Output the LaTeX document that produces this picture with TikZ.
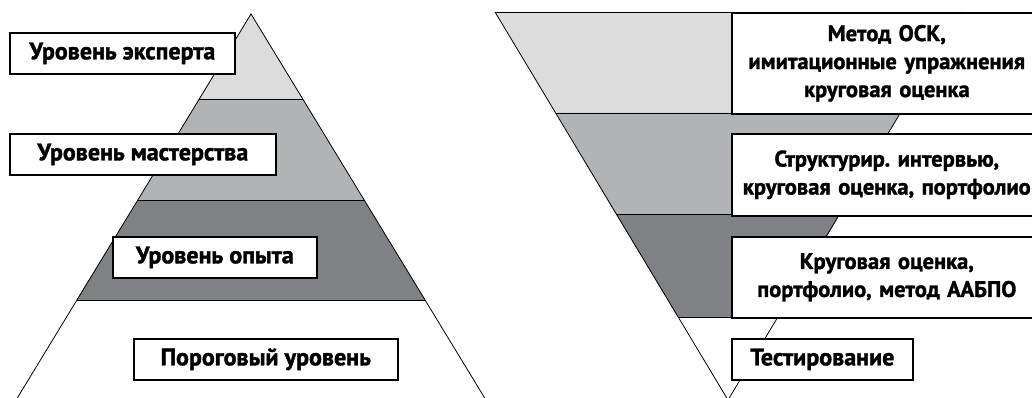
\documentclass[tikz,border=0pt]{standalone}
\usepackage{fontspec}
\setmainfont{PT Sans}[BoldFeatures={FakeBold=1.5}]
\usepackage{xcolor}
\usetikzlibrary{positioning}
\frenchspacing

\definecolor{bandlight}{HTML}{DCDCDD}
\definecolor{bandmid}{HTML}{B2B3B5}
\definecolor{banddark}{HTML}{808184}

\begin{document}
\begin{tikzpicture}[
    x=1pt, y=-1pt,
    every node/.style={font=\bfseries\fontsize{24}{28}\selectfont},
    lvlbox/.style={draw, line width=1.6pt, fill=white, inner sep=0pt, anchor=north west, align=center},
    methbox/.style={lvlbox, minimum width=310, text width=300, font=\bfseries\fontsize{22.5}{28}\selectfont},
    edge line/.style={draw, line width=0.8pt}
]
\clip (0,0) rectangle (1032,398);
\fill[white] (0,0) rectangle (1032,398);

% left pyramid
\coordinate (apex) at (251,14);
\fill[bandlight] (apex) -- (303,99) -- (199,99) -- cycle;
\fill[bandmid] (199,99) -- (303,99) -- (364,200) -- (138,200) -- cycle;
\fill[banddark] (138,200) -- (364,200) -- (425.5,300) -- (76.5,300) -- cycle;
\draw[line width=0.6pt] (199,99) -- (303,99) (138,200) -- (364,200) (76.5,300) -- (425.5,300);
\coordinate (baseL) at (10,410);
\coordinate (baseR) at (492,410);
\draw[edge line] (baseL) -- (apex) -- (baseR);

\node[lvlbox, minimum width=225, minimum height=41] (expert) at (9,32) {Уровень эксперта};
\node[lvlbox, minimum width=266, minimum height=41] (master) at (9,133) {Уровень мастерства};
\node[lvlbox, minimum width=204, minimum height=41] (opyt) at (112,236) {Уровень опыта};
\node[lvlbox, minimum width=264, minimum height=41] (porog) at (133,338) {Пороговый уровень};

% right funnel
\coordinate (tl) at (495,12);
\coordinate (tr) at (961,12);
\coordinate (bottom) at (728,400);
\fill[bandlight] (tl) -- (tr) -- (900,113) -- (556,113) -- cycle;
\fill[bandmid] (556,113) -- (900,113) -- (840,214) -- (616,214) -- cycle;
\fill[banddark] (616,214) -- (840,214) -- (778,317) -- (678,317) -- cycle;
\draw[line width=0.6pt] (tl) -- (tr) (556,113) -- (900,113) (616,214) -- (840,214) (678,317) -- (778,317);
\draw[edge line] (tl) -- (bottom) -- (tr);

\node[methbox, minimum height=101] (osk) at (731,12)
    {Метод ОСК,\\ имитационные упражнения\\ круговая оценка};
\node[methbox, minimum height=82] (interv) at (731,133)
    {Структурир. интервью,\\ круговая оценка, портфолио};
\node[methbox, minimum height=81] (krug) at (731,236)
    {Круговая оценка,\\ портфолио, метод ААБПО};
\node[lvlbox, minimum width=181, minimum height=41] (test) at (731,338) {Тестирование};
\end{tikzpicture}
\end{document}
